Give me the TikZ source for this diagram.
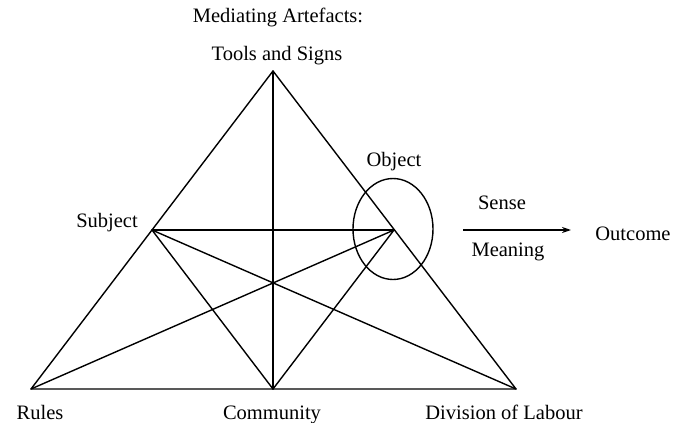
\documentclass[tikz,border=0pt]{standalone}
\usepackage{fontspec}
\setmainfont{Liberation Serif}
\usetikzlibrary{arrows.meta,shapes.geometric}
\begin{document}
\begin{tikzpicture}[x=1pt,y=-1pt,
  edge/.style={line width=1.4pt, line cap=round, line join=round},
  lbl/.style={anchor=base, inner sep=0pt, font=\fontsize{20.5}{24}\selectfont}]
\useasboundingbox (0,0) rectangle (681,423);
% vertices
\coordinate (T) at (273,71);
\coordinate (S) at (152,230);
\coordinate (O) at (394,230);
\coordinate (R) at (31,389);
\coordinate (C) at (273,389);
\coordinate (D) at (516,389);
% triangle and inner lines
\draw[edge] (T) -- (R) -- (D) -- cycle;
\draw[edge] (T) -- (C);
\draw[edge] (S) -- (O);
\draw[edge] (S) -- (C);
\draw[edge] (S) -- (D);
\draw[edge] (R) -- (O);
\draw[edge] (C) -- (O);
% object ellipse
\node[draw, line width=1.4pt, ellipse, minimum width=80pt, minimum height=101pt, inner sep=0pt] (E) at (393,229) {};
% arrow to outcome
\coordinate (A1) at (463,230);
\coordinate (A2) at (571,230);
\draw[line width=1.3pt, -{Stealth[length=9pt,width=6pt]}] (A1) -- (A2);
% labels
\node[lbl] (med) at (278,22) {Mediating Artefacts:};
\node[lbl] (tools) at (277,60) {Tools and Signs};
\node[lbl] (subj) at (107,227) {Subject};
\node[lbl] (obj) at (394,166) {Object};
\node[lbl] (sense) at (502,209) {Sense};
\node[lbl] (mean) at (508,256) {Meaning};
\node[lbl] (out) at (633,240) {Outcome};
\node[lbl] (rules) at (40,419) {Rules};
\node[lbl] (comm) at (272,419) {Community};
\node[lbl] (div) at (504,419) {Division of Labour};
\end{tikzpicture}
\end{document}
